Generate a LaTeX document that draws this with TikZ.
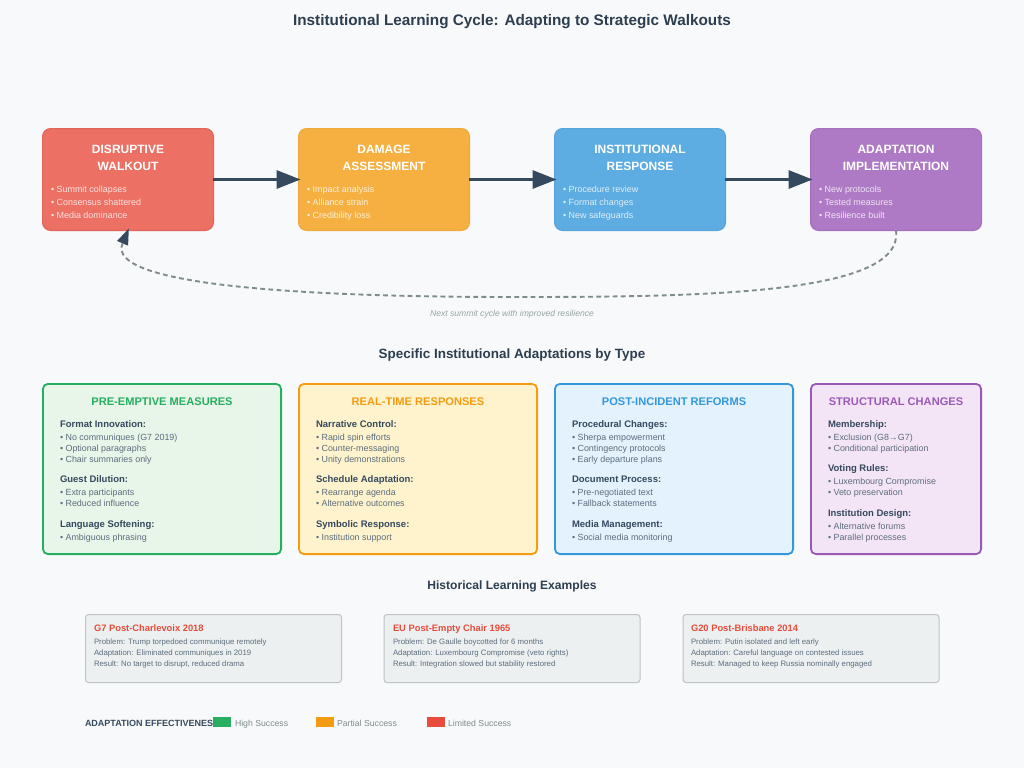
\documentclass[tikz,border=0pt]{standalone}
\usepackage{fontspec}
\setmainfont{Liberation Sans}
\usetikzlibrary{arrows.meta}
\definecolor{bgc}{HTML}{F8F9FA}
\definecolor{dark}{HTML}{2C3E50}
\definecolor{slate}{HTML}{34495E}
\definecolor{body}{HTML}{5D6D7E}
\definecolor{graytxt}{HTML}{7F8C8D}
\definecolor{lightgray}{HTML}{95A5A6}
\definecolor{redc}{HTML}{E74C3C}
\definecolor{orangec}{HTML}{F39C12}
\definecolor{bluec}{HTML}{3498DB}
\definecolor{purplec}{HTML}{9B59B6}
\definecolor{greenc}{HTML}{27AE60}
\definecolor{redf}{HTML}{EC7063}
\definecolor{orangef}{HTML}{F5B041}
\definecolor{bluef}{HTML}{5DADE2}
\definecolor{purplef}{HTML}{AF7AC5}
\definecolor{redb}{HTML}{E0665A}
\definecolor{orangeb}{HTML}{ECA93C}
\definecolor{blueb}{HTML}{56A3D9}
\definecolor{purpleb}{HTML}{A670BC}
\definecolor{greenl}{HTML}{E8F5E9}
\definecolor{orangel}{HTML}{FFF3CD}
\definecolor{bluel}{HTML}{E3F2FD}
\definecolor{purplel}{HTML}{F3E5F5}
\definecolor{cardf}{HTML}{ECF0F1}
\definecolor{cardb}{HTML}{BDC3C7}
\tikzset{
  x=1pt,y=-1pt,
  every node/.style={inner sep=0pt,outer sep=0pt},
  stage/.style={rounded corners=8pt,line width=1.2pt,minimum width=170.8pt,minimum height=101.8pt},
  panel/.style={rounded corners=5pt,line width=1.8pt,minimum height=170.2pt},
  card/.style={rounded corners=3pt,line width=1pt,fill=cardf,draw=cardb,minimum height=68pt},
  swatch/.style={minimum width=18pt,minimum height=10.5pt},
  stagetitle/.style={anchor=base,text=white,font=\fontsize{12}{14}\selectfont\bfseries},
  stageitem/.style={anchor=base west,text=white,text opacity=.8,font=\fontsize{8.95}{10}\selectfont},
  paneltitle/.style={anchor=base,font=\fontsize{11.1}{12}\selectfont\bfseries},
  sub/.style={anchor=base west,text=slate,font=\fontsize{9.5}{11}\selectfont\bfseries},
  item/.style={anchor=base west,text=body,font=\fontsize{8.9}{10}\selectfont},
  cardtitle/.style={anchor=base west,text=redc,font=\fontsize{9.35}{10}\selectfont\bfseries},
  cardtext/.style={anchor=base west,text=body,font=\fontsize{7.8}{10}\selectfont},
  legendtext/.style={anchor=base west,text=graytxt,font=\fontsize{8.7}{10}\selectfont},
  flow/.style={slate,line width=3pt,-{Triangle[length=24pt,width=18pt]},shorten >=-2pt},
  loopback/.style={graytxt,line width=1.9pt,dash pattern=on 4.8pt off 3.4pt,shorten >=-2pt,-{Triangle[length=16pt,width=12pt,fill=slate,color=slate,line width=0pt]}},
}
\begin{document}
\begin{tikzpicture}
\useasboundingbox (0,0) rectangle (1024,768);
\fill[bgc] (0,0) rectangle (1024,768);
\node[anchor=base,text=dark,font=\fontsize{15.3}{17}\selectfont\bfseries] (title) at (512,26) {Institutional Learning Cycle: Adapting to Strategic Walkouts};

% stage boxes
\node[stage,fill=redf,draw=redb] (a) at (128,179.5) {};
\node[stage,fill=orangef,draw=orangeb] (b) at (384,179.5) {};
\node[stage,fill=bluef,draw=blueb] (c) at (640,179.5) {};
\node[stage,fill=purplef,draw=purpleb] (d) at (896,179.5) {};

\node[stagetitle] (a1) at (128,153.5) {DISRUPTIVE};
\node[stagetitle] (a2) at (128,170.5) {WALKOUT};
\node[stageitem] (a3) at (51,192) {• Summit collapses};
\node[stageitem] (a4) at (51,205) {• Consensus shattered};
\node[stageitem] (a5) at (51,218) {• Media dominance};

\node[stagetitle] (b1) at (384,153.5) {DAMAGE};
\node[stagetitle] (b2) at (384,170.5) {ASSESSMENT};
\node[stageitem] (b3) at (307,192) {• Impact analysis};
\node[stageitem] (b4) at (307,205) {• Alliance strain};
\node[stageitem] (b5) at (307,218) {• Credibility loss};

\node[stagetitle] (c1) at (640,153.5) {INSTITUTIONAL};
\node[stagetitle] (c2) at (640,170.5) {RESPONSE};
\node[stageitem] (c3) at (563,192) {• Procedure review};
\node[stageitem] (c4) at (563,205) {• Format changes};
\node[stageitem] (c5) at (563,218) {• New safeguards};

\node[stagetitle] (d1) at (896,153.5) {ADAPTATION};
\node[stagetitle] (d2) at (896,170.5) {IMPLEMENTATION};
\node[stageitem] (d3) at (819,192) {• New protocols};
\node[stageitem] (d4) at (819,205) {• Tested measures};
\node[stageitem] (d5) at (819,218) {• Resilience built};

\draw[flow] (a) -- (b);
\draw[flow] (b) -- (c);
\draw[flow] (c) -- (d);
\draw[loopback] (d.south) .. controls (905,295) and (700,297) .. (512,297)
  .. controls (300,297) and (105,285) .. (a.south);

\node[anchor=base,text=lightgray,font=\fontsize{8.6}{10}\selectfont\itshape] (note) at (512,316) {Next summit cycle with improved resilience};
\node[anchor=base,text=dark,font=\fontsize{13.45}{15}\selectfont\bfseries] (h2) at (512,358) {Specific Institutional Adaptations by Type};

% panels
\node[panel,minimum width=238.2pt,fill=greenl,draw=greenc] (p1) at (162,469) {};
\node[panel,minimum width=238.2pt,fill=orangel,draw=orangec] (p2) at (418,469) {};
\node[panel,minimum width=238.2pt,fill=bluel,draw=bluec] (p3) at (674,469) {};
\node[panel,minimum width=170.2pt,fill=purplel,draw=purplec] (p4) at (896,469) {};

\node[paneltitle,text=greenc] (p1t) at (162,405) {PRE-EMPTIVE MEASURES};
\node[sub] (p1a) at (60,427) {Format Innovation:};
\node[item] (p1b) at (60,440) {• No communiques (G7 2019)};
\node[item] (p1c) at (60,451) {• Optional paragraphs};
\node[item] (p1d) at (60,462) {• Chair summaries only};
\node[sub] (p1e) at (60,482) {Guest Dilution:};
\node[item] (p1f) at (60,495) {• Extra participants};
\node[item] (p1g) at (60,506) {• Reduced influence};
\node[sub] (p1h) at (60,527) {Language Softening:};
\node[item] (p1i) at (60,540) {• Ambiguous phrasing};

\node[paneltitle,text=orangec] (p2t) at (418,405) {REAL-TIME RESPONSES};
\node[sub] (p2a) at (316,427) {Narrative Control:};
\node[item] (p2b) at (316,440) {• Rapid spin efforts};
\node[item] (p2c) at (316,451) {• Counter-messaging};
\node[item] (p2d) at (316,462) {• Unity demonstrations};
\node[sub] (p2e) at (316,482) {Schedule Adaptation:};
\node[item] (p2f) at (316,495) {• Rearrange agenda};
\node[item] (p2g) at (316,506) {• Alternative outcomes};
\node[sub] (p2h) at (316,527) {Symbolic Response:};
\node[item] (p2i) at (316,540) {• Institution support};

\node[paneltitle,text=bluec] (p3t) at (674,405) {POST-INCIDENT REFORMS};
\node[sub] (p3a) at (572,427) {Procedural Changes:};
\node[item] (p3b) at (572,440) {• Sherpa empowerment};
\node[item] (p3c) at (572,451) {• Contingency protocols};
\node[item] (p3d) at (572,462) {• Early departure plans};
\node[sub] (p3e) at (572,482) {Document Process:};
\node[item] (p3f) at (572,495) {• Pre-negotiated text};
\node[item] (p3g) at (572,506) {• Fallback statements};
\node[sub] (p3h) at (572,527) {Media Management:};
\node[item] (p3i) at (572,540) {• Social media monitoring};

\node[paneltitle,text=purplec] (p4t) at (896,405) {STRUCTURAL CHANGES};
\node[sub] (p4a) at (828,427) {Membership:};
\node[item] (p4b) at (828,440) {• Exclusion (G8→G7)};
\node[item] (p4c) at (828,451) {• Conditional participation};
\node[sub] (p4d) at (828,471) {Voting Rules:};
\node[item] (p4e) at (828,484) {• Luxembourg Compromise};
\node[item] (p4f) at (828,495) {• Veto preservation};
\node[sub] (p4g) at (828,516) {Institution Design:};
\node[item] (p4h) at (828,529) {• Alternative forums};
\node[item] (p4i) at (828,540) {• Parallel processes};

\node[anchor=base,text=dark,font=\fontsize{12.08}{14}\selectfont\bfseries] (h3) at (512,589) {Historical Learning Examples};

% cards
\node[card,minimum width=256pt] (k1) at (213.5,648.5) {};
\node[card,minimum width=256pt] (k2) at (512,648.5) {};
\node[card,minimum width=256pt] (k3) at (811,648.5) {};

\node[cardtitle] (k1a) at (94,631.5) {G7 Post-Charlevoix 2018};
\node[cardtext] (k1b) at (94,644) {Problem: Trump torpedoed communique remotely};
\node[cardtext] (k1c) at (94,655.5) {Adaptation: Eliminated communiques in 2019};
\node[cardtext] (k1d) at (94,666.5) {Result: No target to disrupt, reduced drama};

\node[cardtitle] (k2a) at (393,631.5) {EU Post-Empty Chair 1965};
\node[cardtext] (k2b) at (393,644) {Problem: De Gaulle boycotted for 6 months};
\node[cardtext] (k2c) at (393,655.5) {Adaptation: Luxembourg Compromise (veto rights)};
\node[cardtext] (k2d) at (393,666.5) {Result: Integration slowed but stability restored};

\node[cardtitle] (k3a) at (691,631.5) {G20 Post-Brisbane 2014};
\node[cardtext] (k3b) at (691,644) {Problem: Putin isolated and left early};
\node[cardtext] (k3c) at (691,655.5) {Adaptation: Careful language on contested issues};
\node[cardtext] (k3d) at (691,666.5) {Result: Managed to keep Russia nominally engaged};

% legend
\node[anchor=base west,text=slate,font=\fontsize{9}{11}\selectfont\bfseries] (lg) at (85,726) {ADAPTATION EFFECTIVENESS};
\node[swatch,fill=greenc] (s1) at (222,722) {};
\node[swatch,fill=orangec] (s2) at (324.5,722) {};
\node[swatch,fill=redc] (s3) at (435.5,722) {};
\node[legendtext] (l1) at (235,726) {High Success};
\node[legendtext] (l2) at (337,726) {Partial Success};
\node[legendtext] (l3) at (448,726) {Limited Success};
\end{tikzpicture}
\end{document}
